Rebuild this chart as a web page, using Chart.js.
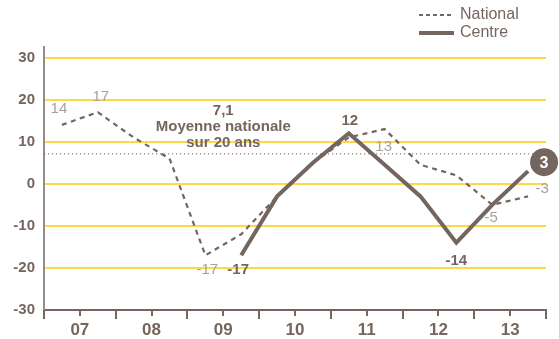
<!DOCTYPE html>
<html>
<head>
<meta charset="utf-8">
<script src="https://cdn.jsdelivr.net/npm/chart.js@4.4.1/dist/chart.umd.min.js"></script>
<style>
  html, body { margin: 0; padding: 0; background: #fff; }
  #wrap { width: 559px; height: 339px; position: relative; }
</style>
</head>
<body>
<div id="wrap"><canvas id="myChart" width="559" height="339"></canvas></div>
<script>
let years = ['07', '08', '09', '10', '11', '12', '13'];
let periods = [0.25, 0.75, 1.25, 1.75, 2.25, 2.75, 3.25, 3.75, 4.25, 4.75, 5.25, 5.75, 6.25, 6.75];
let national = [14, 17, 11, 6, -17, -12, -3, 5, 11, 13, 4.5, 2, -5, -3];
let centre = [null, null, null, null, null, -17, -3, 5, 12, 4.5, -3, -14, -5, 3];
let yTicks = [-30, -20, -10, 0, 10, 20, 30];
let nationalAverage = 7.1;
let averageText = ['7,1', 'Moyenne nationale', 'sur 20 ans'];

let dark = '#74665f';
let light = '#aaa09a';
let font = '"Liberation Sans", Arial, sans-serif';

// which points get a value label, and where it sits relative to the point
let nationalLabels = [[0, -3, -16], [1, 3, -15], [4, 2, 15], [9, -1, 18], [12, -1, 13], [13, 14, -8]];
let centreLabels = [[5, -3, 15], [8, 1, -12], [11, 0, 18]];

function toPoints(vals) {
    return periods.map((p, i) => ({ x: p, y: vals[i] }));
}

const extras = {
    id: 'extras',
    afterDraw(chart) {
        let ctx = chart.ctx;
        let x = chart.scales.x;
        let y = chart.scales.y;
        let area = chart.chartArea;
        ctx.save();

        // x tick marks, longer at year boundaries
        ctx.strokeStyle = dark;
        ctx.lineWidth = 2;
        for (let v = 0; v <= 7; v += 0.5) {
            let px = Math.round(x.getPixelForValue(v));
            let len = v % 1 === 0 ? 9 : 6;
            ctx.beginPath();
            ctx.moveTo(px, area.bottom);
            ctx.lineTo(px, area.bottom + len);
            ctx.stroke();
        }

        ctx.textAlign = 'center';
        ctx.textBaseline = 'middle';

        // value labels
        ctx.font = '15px ' + font;
        ctx.fillStyle = light;
        nationalLabels.forEach(l => {
            let i = l[0];
            ctx.fillText(national[i], x.getPixelForValue(periods[i]) + l[1], y.getPixelForValue(national[i]) + l[2]);
        });
        ctx.font = 'bold 15px ' + font;
        ctx.fillStyle = dark;
        centreLabels.forEach(l => {
            let i = l[0];
            ctx.fillText(centre[i], x.getPixelForValue(periods[i]) + l[1], y.getPixelForValue(centre[i]) + l[2]);
        });

        // last centre value in a disc
        let last = centre.length - 1;
        let cx = x.getPixelForValue(periods[last]) + 16;
        let cy = y.getPixelForValue(centre[last]) - 9;
        ctx.beginPath();
        ctx.arc(cx, cy, 14, 0, Math.PI * 2);
        ctx.fillStyle = dark;
        ctx.fill();
        ctx.fillStyle = '#fff';
        ctx.font = 'bold 16px ' + font;
        ctx.fillText(centre[last], cx, cy + 1);

        // average annotation
        let ax = x.getPixelForValue(2.5);
        let ay = y.getPixelForValue(nationalAverage);
        ctx.fillStyle = dark;
        ctx.font = 'bold 15px ' + font;
        ctx.fillText(averageText[0], ax, ay - 43);
        ctx.fillText(averageText[1], ax, ay - 27);
        ctx.fillText(averageText[2], ax, ay - 11);

        // legend
        ctx.strokeStyle = dark;
        ctx.lineWidth = 2;
        ctx.setLineDash([4, 3]);
        ctx.beginPath();
        ctx.moveTo(419, 15);
        ctx.lineTo(454, 15);
        ctx.stroke();
        ctx.setLineDash([]);
        ctx.lineWidth = 4;
        ctx.beginPath();
        ctx.moveTo(419, 33);
        ctx.lineTo(454, 33);
        ctx.stroke();
        ctx.textAlign = 'left';
        ctx.font = '16px ' + font;
        ctx.fillText('National', 460, 15);
        ctx.fillText('Centre', 460, 33);

        ctx.restore();
    }
};

const config = {
    type: 'line',
    data: {
        datasets: [{
                label: 'Centre',
                data: toPoints(centre),
                borderColor: dark,
                borderWidth: 4,
                pointRadius: 0,
                spanGaps: false,
            },
            {
                label: 'National',
                data: toPoints(national),
                borderColor: dark,
                borderWidth: 2.2,
                borderDash: [5, 4.5],
                pointRadius: 0,
            },
            {
                label: 'Moyenne',
                data: [{ x: 0, y: nationalAverage }, { x: 7, y: nationalAverage }],
                borderColor: dark,
                borderWidth: 1,
                borderDash: [1.2, 2.8],
                pointRadius: 0,
            }
        ]
    },
    options: {
        responsive: false,
        animation: false,
        layout: { padding: { left: 0, right: 13, top: 47, bottom: 0 } },
        plugins: {
            legend: { display: false },
            tooltip: { enabled: false },
        },
        scales: {
            x: {
                type: 'linear',
                min: 0,
                max: 7,
                afterBuildTicks: axis => {
                    let t = [];
                    for (let v = 0; v <= 7; v += 0.5) t.push({ value: v });
                    axis.ticks = t;
                },
                afterFit: axis => { axis.height = 29; },
                grid: { drawOnChartArea: false, drawTicks: false },
                border: { color: dark, width: 2 },
                ticks: {
                    autoSkip: false,
                    maxRotation: 0,
                    padding: 10,
                    color: dark,
                    font: { family: font, size: 17, weight: 'bold' },
                    callback: v => (v % 1 === 0.5 ? years[Math.floor(v)] : ''),
                },
            },
            y: {
                min: -30,
                max: 32.5,
                afterBuildTicks: axis => {
                    axis.ticks = yTicks.map(v => ({ value: v }));
                },
                afterFit: axis => { axis.width = 44; },
                grid: {
                    drawTicks: false,
                    lineWidth: 2,
                    color: c => (c.tick && c.tick.value === -30 ? 'rgba(0,0,0,0)' : '#fed845'),
                },
                border: { color: '#988c87', width: 2 },
                ticks: {
                    padding: 9,
                    color: dark,
                    font: { family: font, size: 15, weight: 'bold' },
                },
            }
        }
    },
    plugins: [extras]
};

let myChart = new Chart(document.getElementById('myChart'), config);
</script>
</body>
</html>
